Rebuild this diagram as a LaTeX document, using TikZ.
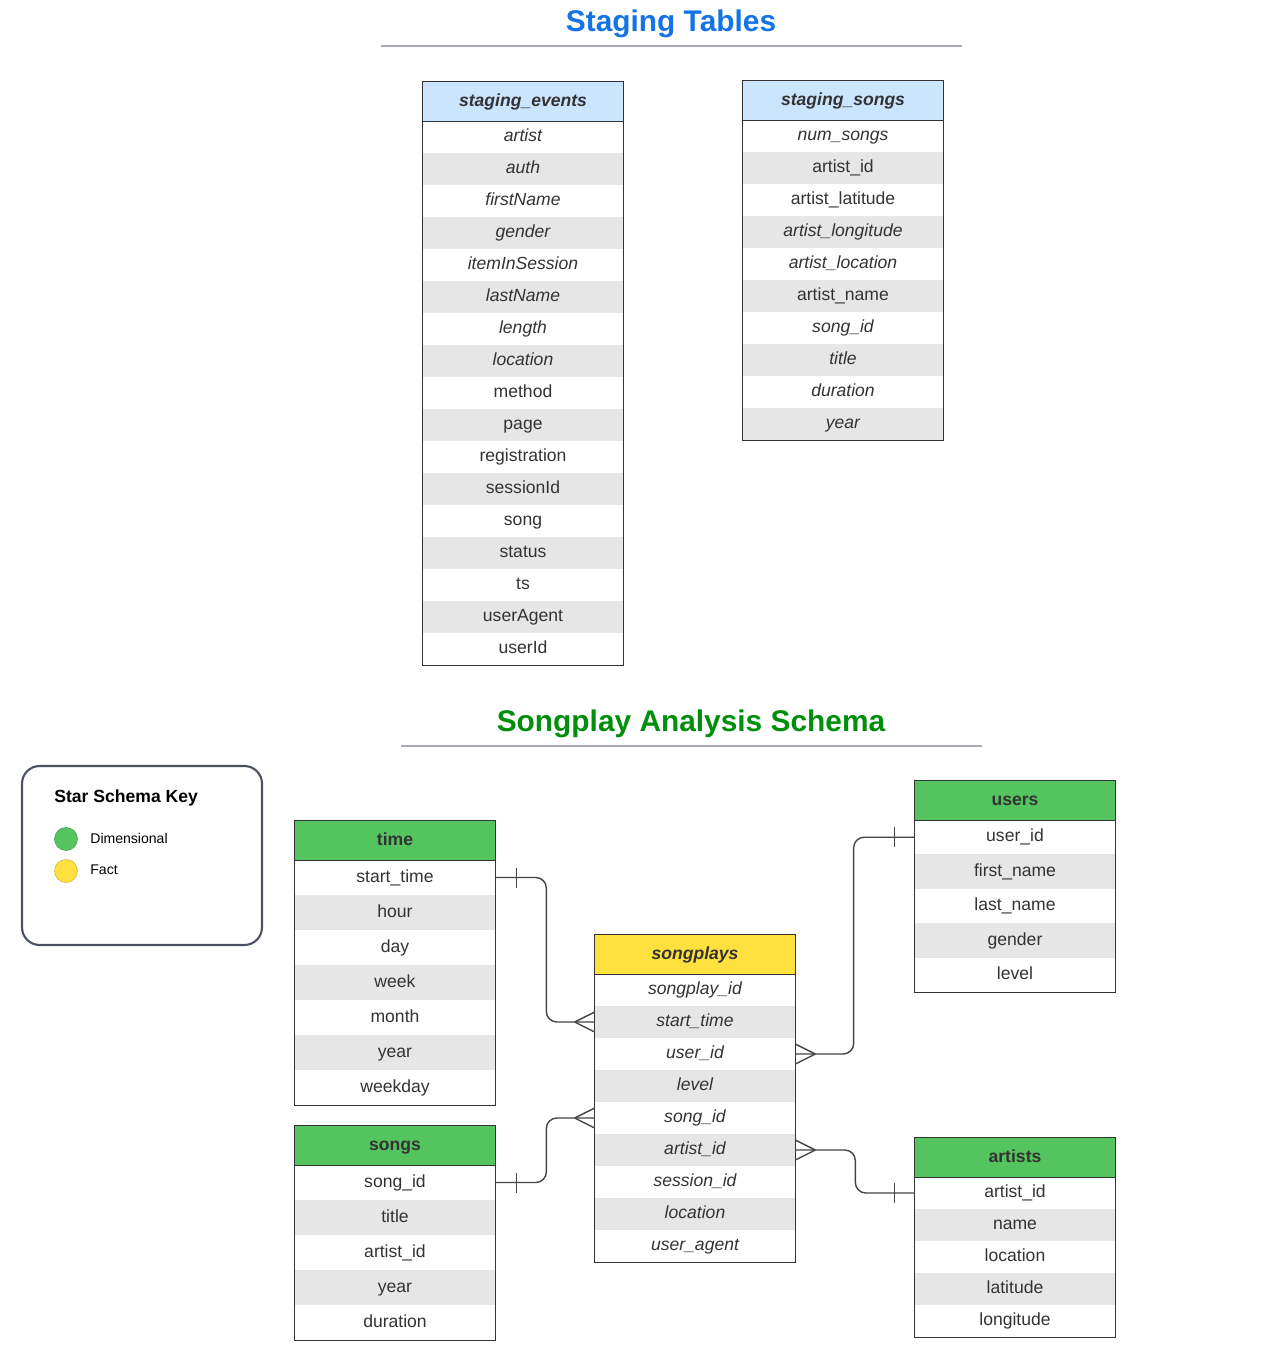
\documentclass[tikz,border=0pt]{standalone}
\usepackage{fontspec}
\setmainfont{Liberation Sans}
\usetikzlibrary{calc}
\definecolor{titleblue}{HTML}{1473E6}
\definecolor{titlegreen}{HTML}{008F0A}
\definecolor{hdrblue}{HTML}{CCE5FF}
\definecolor{hdrgreen}{HTML}{54C45E}
\definecolor{hdryellow}{HTML}{FFE03F}
\definecolor{rowgray}{HTML}{E6E6E6}
\definecolor{bordc}{HTML}{333333}
\definecolor{txt}{HTML}{333333}
\definecolor{tline}{HTML}{A7A9B3}
\definecolor{keyborder}{HTML}{4A5262}
\definecolor{connc}{HTML}{444444}
\tikzset{
  hdr/.style={inner sep=0pt, minimum width=4cm, minimum height=0.78cm, text=txt, text height=7.5pt, text depth=2.2pt, font=\fontsize{10}{12}\selectfont\bfseries},
  cell/.style={inner sep=0pt, minimum width=4cm, text=txt, text height=7.5pt, text depth=2.2pt, font=\fontsize{10}{12}\selectfont},
  tblborder/.style={draw=bordc, line width=0.7pt},
  conn/.style={draw=connc, line width=0.8pt},
  titletext/.style={font=\fontsize{17}{20}\selectfont\bfseries},
  titleline/.style={draw=tline, line width=1.2pt},
}
\newcommand{\drawtable}[8]{%
  \pgfmathsetmacro\rhcm{#4*0.02}%
  \node[hdr,#5] (#1-h) at (#2+100,#3+19.5) {#6};
  \foreach \tx [count=\i] in {#8} {%
    \pgfmathsetmacro\yy{#3+39+(\i-0.5)*#4}%
    \ifodd\i \def\rf{white}\else\def\rf{rowgray}\fi
    \node[cell, fill=\rf, minimum height=\rhcm cm] (#1-\i) at (#2+100,\yy) {\tx};
  }
  \draw[tblborder] (#1-h.north west) rectangle (#1-#7.south east);
  \draw[tblborder] (#1-h.south west) -- (#1-h.south east);
}
\begin{document}
\begin{tikzpicture}[x=0.02cm, y=-0.02cm]
\useasboundingbox (0,0) rectangle (1285,1359);

% titles
\node[titletext, text=titleblue] (t1) at (671,24) {Staging Tables};
\draw[titleline] (381,46) -- (962,46);
\node[titletext, text=titlegreen] (t2) at (691,724) {Songplay Analysis Schema};
\draw[titleline] (401,746) -- (982,746);

% staging tables
\drawtable{se}{423}{82}{32}{fill=hdrblue}{\itshape staging\_events}{17}{%
\itshape artist,
\itshape auth,
\itshape firstName,
\itshape gender,
\itshape itemInSession,
\itshape lastName,
\itshape length,
\itshape location,
method,
page,
registration,
sessionId,
song,
status,
ts,
userAgent,
userId}

\drawtable{ss}{743}{81}{32}{fill=hdrblue}{\itshape staging\_songs}{10}{%
\itshape num\_songs,
artist\_id,
artist\_latitude,
\itshape artist\_longitude,
\itshape artist\_location,
artist\_name,
\itshape song\_id,
\itshape title,
\itshape duration,
\itshape year}

% star schema
\drawtable{time}{295}{821}{35}{fill=hdrgreen}{time}{7}{%
start\_time,
hour,
day,
week,
month,
year,
weekday}

\drawtable{songs}{295}{1126}{35}{fill=hdrgreen}{songs}{5}{%
song\_id,
title,
artist\_id,
year,
duration}

\drawtable{sp}{595}{935}{32}{fill=hdryellow}{\itshape songplays}{9}{%
\itshape songplay\_id,
\itshape start\_time,
\itshape user\_id,
\itshape level,
\itshape song\_id,
\itshape artist\_id,
\itshape session\_id,
\itshape location,
\itshape user\_agent}

\drawtable{users}{915}{781}{34.4}{fill=hdrgreen}{users}{5}{%
user\_id,
first\_name,
last\_name,
gender,
level}

\drawtable{artists}{915}{1138}{32}{fill=hdrgreen}{artists}{5}{%
artist\_id,
name,
location,
latitude,
longitude}

% connectors
\draw[conn, rounded corners=6pt] (time-1.east) -- ++(51,0) |- (sp-2.west);
\draw[conn] ([yshift=0.2cm]time-1.east) ++(0.42cm,0) -- ++(0,-0.4cm);
\draw[conn] ([xshift=-0.4cm]sp-2.west) -- ([yshift=0.2cm]sp-2.west);
\draw[conn] ([xshift=-0.4cm]sp-2.west) -- ([yshift=-0.2cm]sp-2.west);

\draw[conn, rounded corners=6pt] (songs-1.east) -- ++(51,0) |- (sp-5.west);
\draw[conn] ([yshift=0.2cm]songs-1.east) ++(0.42cm,0) -- ++(0,-0.4cm);
\draw[conn] ([xshift=-0.4cm]sp-5.west) -- ([yshift=0.2cm]sp-5.west);
\draw[conn] ([xshift=-0.4cm]sp-5.west) -- ([yshift=-0.2cm]sp-5.west);

\draw[conn, rounded corners=6pt] (users-1.west) -- ++(-61,0) |- (sp-3.east);
\draw[conn] ([yshift=0.2cm]users-1.west) ++(-0.4cm,0) -- ++(0,-0.4cm);
\draw[conn] ([xshift=0.4cm]sp-3.east) -- ([yshift=0.2cm]sp-3.east);
\draw[conn] ([xshift=0.4cm]sp-3.east) -- ([yshift=-0.2cm]sp-3.east);

\draw[conn, rounded corners=6pt] (sp-6.east) -- ++(60,0) |- (artists-1.west);
\draw[conn] ([yshift=0.2cm]artists-1.west) ++(-0.4cm,0) -- ++(0,-0.4cm);
\draw[conn] ([xshift=0.4cm]sp-6.east) -- ([yshift=0.2cm]sp-6.east);
\draw[conn] ([xshift=0.4cm]sp-6.east) -- ([yshift=-0.2cm]sp-6.east);

% key
\node[draw=keyborder, line width=1.2pt, rounded corners=10pt, minimum width=4.8cm, minimum height=3.58cm, inner sep=0pt] (key) at (142,855.5) {};
\node[anchor=west, inner sep=0pt, font=\fontsize{10}{12}\selectfont\bfseries] (keyt) at (54,798) {Star Schema Key};
\node[circle, fill=hdrgreen, draw=hdrgreen!80!black, line width=0.3pt, minimum size=0.46cm, inner sep=0pt] (kd) at (66,839) {};
\node[circle, fill=hdryellow, draw=hdryellow!80!black, line width=0.3pt, minimum size=0.46cm, inner sep=0pt] (kf) at (66,871) {};
\node[anchor=west, inner sep=0pt, font=\fontsize{8}{10}\selectfont] (kdt) at (90,838) {Dimensional};
\node[anchor=west, inner sep=0pt, font=\fontsize{8}{10}\selectfont] (kft) at (90,870) {Fact};
\end{tikzpicture}
\end{document}
